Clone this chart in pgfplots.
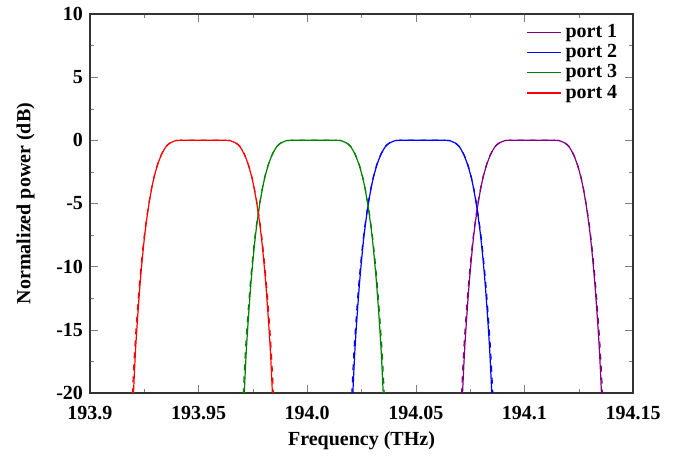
\documentclass[border=0pt]{standalone}
\usepackage{fontspec}
\setmainfont{Liberation Serif}
\usepackage{pgfplots}
\usepackage{pgfplotstable}
\pgfplotsset{compat=1.18}
\definecolor{cpur}{RGB}{128,0,128}
\definecolor{cgrn}{RGB}{0,128,0}
\pgfplotstableread{
dx y
-0.0325 -22
-0.031 -16.5
-0.029 -11.5
-0.027 -7.8
-0.025 -5.2
-0.023 -3.3
-0.021 -2.0
-0.019 -1.1
-0.017 -0.5
-0.015 -0.2
-0.013 -0.05
-0.010 0
0.010 0
0.013 -0.05
0.015 -0.2
0.017 -0.5
0.019 -1.1
0.021 -2.0
0.023 -3.3
0.025 -5.2
0.027 -7.8
0.029 -11.5
0.031 -16.5
0.0325 -22
}\prof
\pgfplotstableread{
dx y
-0.0330 -22
-0.0314 -16.5
-0.0293 -11.5
-0.0272 -7.8
-0.0251 -5.2
-0.0231 -3.3
-0.0211 -2.0
-0.0191 -1.1
-0.0171 -0.5
-0.0151 -0.2
-0.0131 -0.05
-0.010 0
0.010 0
0.0131 -0.05
0.0151 -0.2
0.0171 -0.5
0.0191 -1.1
0.0211 -2.0
0.0231 -3.3
0.0251 -5.2
0.0272 -7.8
0.0293 -11.5
0.0314 -16.5
0.0330 -22
}\profd
\begin{document}
\begin{tikzpicture}
\useasboundingbox (-45pt,-32.5pt) rectangle (294pt,196.5pt);
\begin{axis}[
  at={(0,0)}, anchor=south west,
  scale only axis, width=271.5pt, height=189.5pt,
  xmin=193.9, xmax=194.15, ymin=-20, ymax=10,
  xtick={193.9,193.95,194.0,194.05,194.1,194.15},
  xticklabels={193.9,193.95,194.0,194.05,194.1,194.15},
  ytick={-20,-15,-10,-5,0,5,10},
  minor x tick num=1, minor y tick num=1,
  tick align=inside, tick pos=both,
  major tick length=4pt, minor tick length=2pt,
  /pgf/number format/assume math mode=true,
  ticklabel style={font=\bfseries\fontsize{10}{11}\selectfont},
  xticklabel style={yshift=-3pt},
  label style={font=\bfseries\fontsize{10}{11}\selectfont},
  xlabel={Frequency (THz)}, ylabel={Normalized power (dB)},
  xlabel style={yshift=1pt}, ylabel style={yshift=4pt},
  axis line style={thick, black!80},
  legend style={draw=none, fill=none, at={(0.99,0.995)}, anchor=north east, font=\bfseries\fontsize{10}{11}\selectfont, row sep=-2pt},
  legend image code/.code={\draw[#1, sharp plot, line width=0.6pt] (0pt,0pt) -- (0.6cm,0pt);},
  legend cell align=left,
  every axis plot/.append style={smooth, line width=0.6pt},
  clip=true,
]
\addplot[cpur] table[x expr=\thisrow{dx}+194.1035, y=y]{\prof};
\addlegendentry{port 1}
\addplot[blue] table[x expr=\thisrow{dx}+194.053, y=y]{\prof};
\addlegendentry{port 2}
\addplot[cgrn] table[x expr=\thisrow{dx}+194.003, y=y]{\prof};
\addlegendentry{port 3}
\addplot[red] table[x expr=\thisrow{dx}+193.952, y=y]{\prof};
\addlegendentry{port 4}
\addplot[cpur, dashed, forget plot] table[x expr=\thisrow{dx}+194.1035, y=y]{\profd};
\addplot[blue, dashed, forget plot] table[x expr=\thisrow{dx}+194.053, y=y]{\profd};
\addplot[cgrn, dashed, forget plot] table[x expr=\thisrow{dx}+194.003, y=y]{\profd};
\addplot[red, dashed, forget plot] table[x expr=\thisrow{dx}+193.952, y=y]{\profd};
\end{axis}
\end{tikzpicture}
\end{document}
